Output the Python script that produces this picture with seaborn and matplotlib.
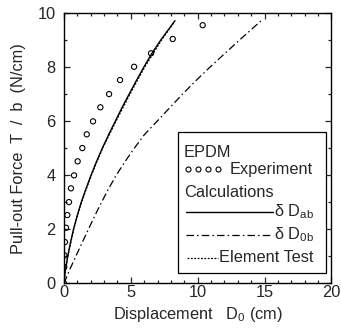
import matplotlib
matplotlib.use("Agg")
import matplotlib.pyplot as plt
from matplotlib.lines import Line2D
from matplotlib.patches import Rectangle
from matplotlib.ticker import MultipleLocator
import seaborn as sns
import pandas as pd

# Experiment: pull-out force vs displacement
exp_disp = [0.0, 0.02, 0.03, 0.07, 0.15, 0.25, 0.37, 0.52, 0.75, 1.02,
            1.37, 1.70, 2.17, 2.72, 3.37, 4.19, 5.24, 6.51, 8.13, 10.37]
exp_force = [0.0, 0.61, 1.04, 1.53, 2.06, 2.53, 3.01, 3.52, 4.0, 4.52,
             5.01, 5.52, 6.0, 6.52, 7.01, 7.53, 8.02, 8.52, 9.05, 9.56]

# Calculation with delta D_ab
dab_force = [0.0, 0.25, 0.5, 1.0, 1.5, 2.0, 2.5, 3.0, 3.5, 4.0, 4.5,
             5.0, 5.5, 6.0, 6.5, 7.0, 7.5, 8.0, 8.5, 9.0, 9.73]
dab_disp = [0.0, 0.04, 0.11, 0.28, 0.48, 0.71, 0.98, 1.29, 1.64, 2.02, 2.42,
            2.86, 3.33, 3.83, 4.33, 4.86, 5.40, 5.96, 6.55, 7.22, 8.30]

# Calculation with delta D_0b
d0b_force = [0.0, 0.5, 1.0, 1.5, 2.0, 2.5, 3.0, 3.5, 4.0, 4.5, 5.0, 5.5,
             6.0, 6.5, 7.0, 7.5, 8.0, 8.5, 9.0, 9.75]
d0b_disp = [0.0, 0.42, 0.88, 1.35, 1.82, 2.30, 2.80, 3.33, 3.90, 4.55, 5.25, 6.0,
            6.95, 7.90, 8.85, 9.85, 10.90, 12.0, 13.10, 14.80]

# Element test
elt_force = [0.0, 0.5, 1.0, 2.0, 3.0, 4.0, 5.0, 6.0, 7.0, 8.0, 9.0, 9.70]
elt_disp = [0.0, 0.11, 0.28, 0.72, 1.30, 2.04, 2.88, 3.88, 4.92, 6.02, 7.28, 8.28]

x_ticks = [0, 5, 10, 15, 20]
y_ticks = [0, 2, 4, 6, 8, 10]

sns.set_style("ticks")
plt.rcParams["font.family"] = ["Liberation Sans", "DejaVu Sans"]
plt.rcParams["mathtext.default"] = "regular"

fig = plt.figure(figsize=(3.41, 3.33), dpi=100)
ax = fig.add_axes([0.1877, 0.149, 0.7843, 0.811])

sns.scatterplot(x=exp_disp, y=exp_force, ax=ax, marker="o", s=14,
                facecolor="none", edgecolor="black", linewidth=0.8, zorder=3)
sns.lineplot(data=pd.DataFrame({"d": dab_disp, "f": dab_force}), x="d", y="f",
             sort=False, estimator=None, ax=ax, color="black", lw=1.0)
sns.lineplot(data=pd.DataFrame({"d": d0b_disp, "f": d0b_force}), x="d", y="f",
             sort=False, estimator=None, ax=ax, color="black", lw=0.9,
             linestyle=(0, (6, 2.5, 1.2, 2.5)))
sns.lineplot(data=pd.DataFrame({"d": elt_disp, "f": elt_force}), x="d", y="f",
             sort=False, estimator=None, ax=ax, color="black", lw=0.9,
             linestyle=(0, (1.5, 1.2)))

ax.set_xlim(0, 20)
ax.set_ylim(0, 10)
ax.set_xticks(x_ticks)
ax.set_yticks(y_ticks)
ax.xaxis.set_minor_locator(MultipleLocator(1))
ax.yaxis.set_minor_locator(MultipleLocator(1))
ax.tick_params(which="both", direction="in", top=True, right=True,
               labelsize=11.8, width=0.9)
ax.tick_params(axis="x", which="both", pad=1.5)
ax.tick_params(axis="y", which="both", pad=6)
ax.tick_params(which="major", length=4)
ax.tick_params(which="minor", length=2.2)
for sp in ax.spines.values():
    sp.set_linewidth(1.0)
    sp.set_color("black")

ax.set_xlabel("Displacement   D$_0$ (cm)", fontsize=11.8, labelpad=3)
ax.set_ylabel("Pull-out Force  T  /  b  (N/cm)", fontsize=11.8, labelpad=8)

# Legend panel
tr = ax.transAxes
ax.add_patch(Rectangle((0.427, 0.037), 0.553, 0.522, transform=tr,
                       facecolor="white", edgecolor="black", lw=0.9, zorder=4))
fs = 11.8
ax.text(0.448, 0.483, "EPDM", transform=tr, fontsize=fs, va="center", zorder=5)
ax.add_line(Line2D([0.464, 0.501, 0.538, 0.576], [0.423] * 4, transform=tr,
                   ls="none", marker="o", ms=3.6, mfc="none", mec="black",
                   mew=0.8, zorder=5))
ax.text(0.618, 0.423, "Experiment", transform=tr, fontsize=fs, va="center", zorder=5)
ax.text(0.448, 0.338, "Calculations", transform=tr, fontsize=fs, va="center", zorder=5)
ax.add_line(Line2D([0.456, 0.781], [0.264, 0.264], transform=tr,
                   color="black", lw=1.0, zorder=5))
ax.text(0.786, 0.264, "δ D$_{ab}$", transform=tr, fontsize=fs, va="center", zorder=5)
ax.add_line(Line2D([0.456, 0.781], [0.179, 0.179], transform=tr,
                   color="black", lw=0.9, ls=(0, (6, 2.5, 1.2, 2.5)), zorder=5))
ax.text(0.786, 0.179, "δ D$_{0b}$", transform=tr, fontsize=fs, va="center", zorder=5)
ax.add_line(Line2D([0.460, 0.576], [0.094, 0.094], transform=tr,
                   color="black", lw=0.9, ls=(0, (1.5, 1.2)), zorder=5))
ax.text(0.580, 0.094, "Element Test", transform=tr, fontsize=fs, va="center", zorder=5)

fig.savefig("out.png", dpi=100)
